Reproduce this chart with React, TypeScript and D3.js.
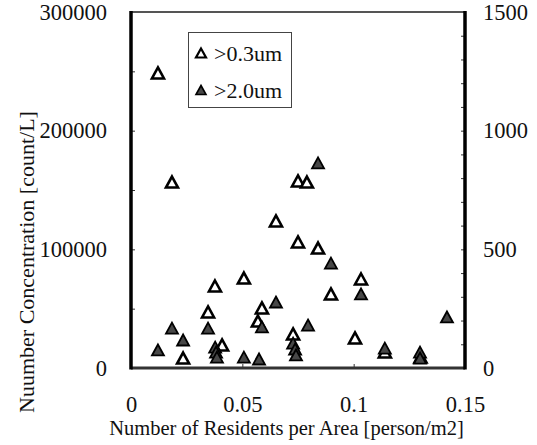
import * as d3 from 'd3';
import { useEffect, useRef } from 'react';

// >0.3um : left axis, count/L
const fineX = [0.0121, 0.0184, 0.075, 0.079, 0.0651, 0.075, 0.084, 0.0898, 0.0507, 0.0377, 0.0346, 0.0588, 0.057, 0.0728, 0.1033, 0.1006, 0.114, 0.0234, 0.0409, 0.13];
const fineY = [248600, 156700, 157600, 156700, 123900, 106200, 101100, 62400, 75800, 69100, 47200, 50600, 39600, 28700, 75000, 25300, 13500, 8400, 19400, 9300];

// >2.0um : right axis
const coarseX = [0.084, 0.0898, 0.1033, 0.1419, 0.0651, 0.0795, 0.0588, 0.0346, 0.0184, 0.0234, 0.0121, 0.0728, 0.0737, 0.0741, 0.0507, 0.0575, 0.114, 0.1298, 0.1298, 0.0378, 0.0382, 0.0386];
const coarseY = [864, 442, 312, 215, 278, 181, 173, 168, 168, 118, 76, 105, 80, 55, 46, 38, 84, 67, 42, 88, 67, 46];

const xTicks = [0, 0.05, 0.1, 0.15];
const leftTicks = d3.range(0, 300001, 50000);
const rightTicks = d3.range(0, 1501, 100);
const legendLabels = ['>0.3um', '>2.0um'];

const xTitle = 'Number of Residents per Area [person/m2]';
const yTitle = 'Nuumber Concentration [count/L]';

const font = '"Liberation Serif", "Times New Roman", serif';

const tri = (w, h) => `M0,${-h / 2}L${w / 2},${h / 2}L${-w / 2},${h / 2}Z`;

const App = () => {
  const svgRef = useRef(null);

  useEffect(() => {
    const width = 537;
    const height = 445;
    const left = 131;
    const right = 465;
    const top = 12;
    const bottom = 368;

    const svg = d3.select(svgRef.current);
    svg.selectAll('*').remove();

    const x = d3.scaleLinear([0, 0.15], [left, right]);
    const yL = d3.scaleLinear([0, 300000], [bottom, top]);
    const yR = d3.scaleLinear([0, 1500], [bottom, top]);

    svg.append('rect').attr('width', width).attr('height', height).attr('fill', '#fff');

    const styleText = (g, size) => g.selectAll('.tick text')
      .attr('font-family', font)
      .attr('font-size', size)
      .attr('fill', '#111');

    // left axis
    svg.append('g')
      .attr('transform', `translate(${left},0)`)
      .call(d3.axisLeft(yL).tickValues(leftTicks).tickSize(-4).tickPadding(24)
        .tickFormat(d => (d % 100000 === 0 ? d3.format('d')(d) : '')))
      .call(g => g.select('.domain').remove())
      .call(g => g.selectAll('.tick line').attr('stroke', '#333'))
      .call(g => styleText(g, 22.5));

    // right axis
    svg.append('g')
      .attr('transform', `translate(${right},0)`)
      .call(d3.axisRight(yR).tickValues(rightTicks).tickSize(-4).tickPadding(18)
        .tickFormat(d => (d % 500 === 0 ? d3.format('d')(d) : '')))
      .call(g => g.select('.domain').remove())
      .call(g => g.selectAll('.tick line').attr('stroke', '#333'))
      .call(g => styleText(g, 22.5));

    // bottom axis
    svg.append('g')
      .attr('transform', `translate(0,${bottom})`)
      .call(d3.axisBottom(x).tickValues(xTicks).tickSize(-4).tickPadding(28)
        .tickFormat(d => (d === 0 ? '0' : d3.format('~g')(d))))
      .call(g => g.select('.domain').remove())
      .call(g => g.selectAll('.tick line').attr('stroke', '#333'))
      .call(g => styleText(g, 22.5));

    // frame
    svg.append('line').attr('x1', left).attr('x2', right).attr('y1', top).attr('y2', top)
      .attr('stroke', '#555').attr('stroke-width', 2);
    svg.append('line').attr('x1', left).attr('x2', right).attr('y1', bottom).attr('y2', bottom)
      .attr('stroke', '#333').attr('stroke-width', 3);
    svg.append('line').attr('x1', left).attr('x2', left).attr('y1', top - 1).attr('y2', bottom + 1.5)
      .attr('stroke', '#000').attr('stroke-width', 3.5);
    svg.append('line').attr('x1', right).attr('x2', right).attr('y1', top - 1).attr('y2', bottom + 1.5)
      .attr('stroke', '#000').attr('stroke-width', 3.5);

    // points
    svg.append('g')
      .selectAll('path')
      .data(fineX.map((d, i) => [d, fineY[i]]))
      .join('path')
      .attr('d', tri(12, 11))
      .attr('transform', d => `translate(${x(d[0])},${yL(d[1])})`)
      .attr('fill', '#fff')
      .attr('stroke', '#000')
      .attr('stroke-width', 2.6)
      .attr('stroke-linejoin', 'miter');

    svg.append('g')
      .selectAll('path')
      .data(coarseX.map((d, i) => [d, coarseY[i]]))
      .join('path')
      .attr('d', tri(12, 11))
      .attr('transform', d => `translate(${x(d[0])},${yR(d[1])})`)
      .attr('fill', '#474747')
      .attr('stroke', '#000')
      .attr('stroke-width', 1.8);

    // legend
    const lg = svg.append('g');
    lg.append('rect')
      .attr('x', 188.5).attr('y', 32.5).attr('width', 103).attr('height', 75)
      .attr('fill', '#fff').attr('stroke', '#444').attr('stroke-width', 1);
    legendLabels.forEach((label, i) => {
      const cy = 53 + i * 37;
      lg.append('path')
        .attr('d', tri(10, 9))
        .attr('transform', `translate(201,${cy})`)
        .attr('fill', i === 0 ? '#fff' : '#474747')
        .attr('stroke', '#000')
        .attr('stroke-width', i === 0 ? 2.2 : 1.6);
      lg.append('text')
        .attr('x', 214).attr('y', cy)
        .attr('dy', '0.35em')
        .attr('font-family', font)
        .attr('font-size', 22)
        .attr('fill', '#111')
        .text(label);
    });

    // axis titles
    svg.append('text')
      .attr('x', 286.5).attr('y', 435)
      .attr('text-anchor', 'middle')
      .attr('font-family', font)
      .attr('font-size', 20.5)
      .attr('fill', '#111')
      .text(xTitle);

    svg.append('text')
      .attr('transform', `translate(34,${(top + bottom) / 2 + 72}) rotate(-90)`)
      .attr('text-anchor', 'middle')
      .attr('font-family', font)
      .attr('font-size', 22)
      .attr('fill', '#111')
      .text(yTitle);
  }, []);

  return (
    <svg ref={svgRef} width={537} height={445}
      style={{ position: 'absolute', left: 0, top: 0, display: 'block' }} />
  );
};

export default App;
